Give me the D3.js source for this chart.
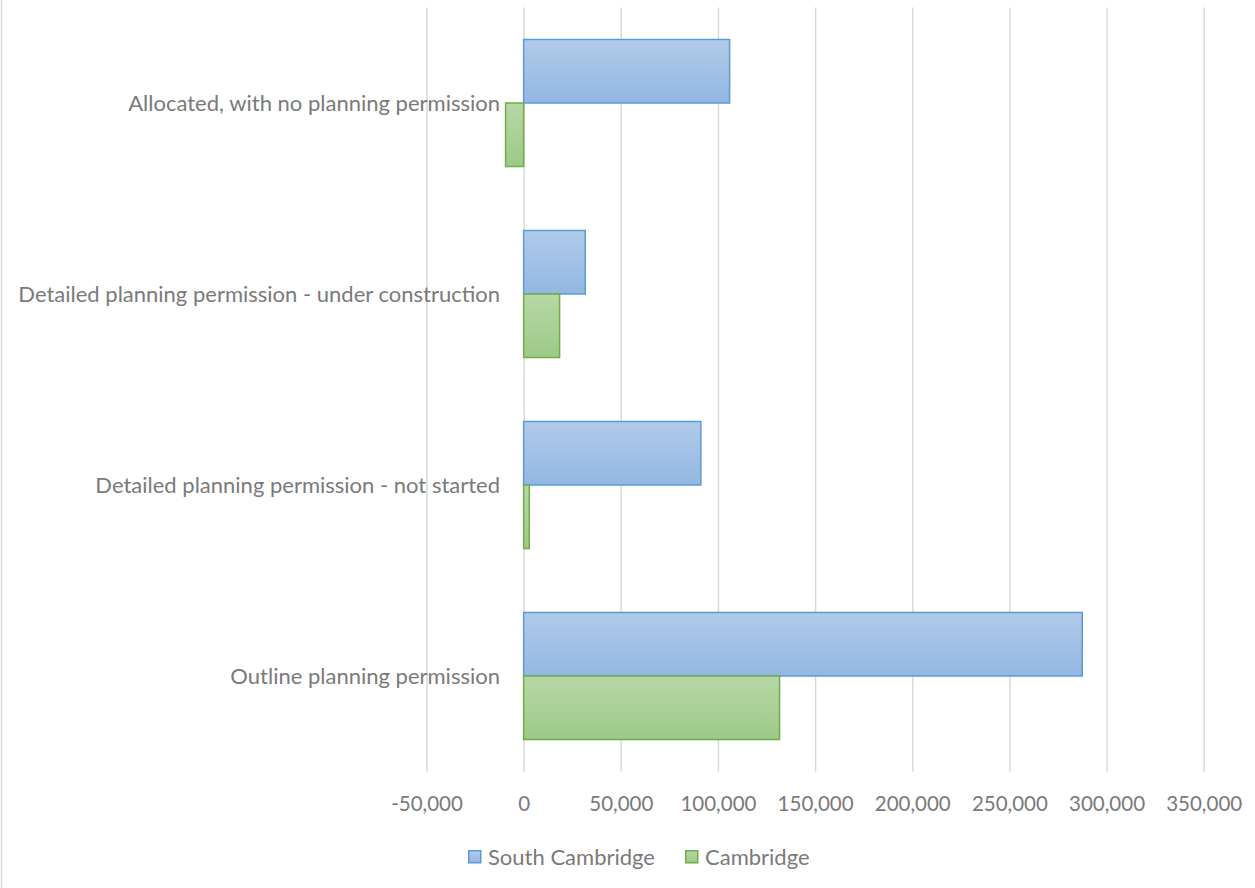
<!DOCTYPE html>
<html>
<head>
<meta charset="utf-8">
<script src="https://cdn.jsdelivr.net/npm/d3@7"></script>
<style>
  html, body { margin: 0; padding: 0; background: #fff; }
  svg { display: block; }
  text { font-family: Lato, "Open Sans", sans-serif; fill: #7a7a7a; }
</style>
</head>
<body>
<svg id="chart" width="1255" height="888"></svg>
<script>
// Housing land supply by planning status
const categories = [
  "Allocated, with no planning permission",
  "Detailed planning permission - under construction",
  "Detailed planning permission - not started",
  "Outline planning permission"
];
const seriesNames = ["South Cambridge", "Cambridge"];
const southCambridge = [106000, 31700, 91200, 287500];
const cambridge = [-9300, 18500, 2900, 131700];
const tickValues = [-50000, 0, 50000, 100000, 150000, 200000, 250000, 300000, 350000];

const seriesStyle = {
  "South Cambridge": { stroke: "#5b9bd5", top: "#b1cbe9", bottom: "#93b7e2" },
  "Cambridge":       { stroke: "#70ad47", top: "#b7d7a7", bottom: "#9dca86" }
};

const svg = d3.select("#chart");
const W = 1255, H = 888;

// chart area outline
svg.append("rect")
  .attr("x", 1.5).attr("y", -2).attr("width", W + 4).attr("height", H + 4)
  .attr("fill", "none").attr("stroke", "#d9d9d9").attr("stroke-width", 1.5);

const plot = { left: 426.5, right: 1203.7, top: 7.5, bottom: 771.5 };

const x = d3.scaleLinear().domain([-50000, 350000]).range([plot.left, plot.right]);
const y = d3.scaleBand().domain(categories).range([plot.top, plot.bottom])
  .paddingInner(0.335).paddingOuter(0.1675);
const ySub = d3.scaleBand().domain(seriesNames).range([0, y.bandwidth()]);

// gradients
const defs = svg.append("defs");
seriesNames.forEach((s, i) => {
  const g = defs.append("linearGradient").attr("id", "grad" + i)
    .attr("x1", 0).attr("y1", 0).attr("x2", 0).attr("y2", 1);
  g.append("stop").attr("offset", "0%").attr("stop-color", seriesStyle[s].top);
  g.append("stop").attr("offset", "100%").attr("stop-color", seriesStyle[s].bottom);
});

// vertical gridlines and value labels
const fmt = d3.format(",d");
const xAxis = d3.axisBottom(x).tickValues(tickValues)
  .tickSize(-(plot.bottom - plot.top)).tickSizeOuter(0)
  .tickFormat(d => fmt(d).replace("\u2212", "-"));
const gx = svg.append("g").attr("transform", `translate(0,${plot.bottom})`).call(xAxis);
gx.select(".domain").remove();
gx.selectAll(".tick line").attr("stroke", "#d9d9d9").attr("stroke-width", 1.5);
gx.selectAll(".tick text")
  .attr("y", 32).attr("dy", "0.35em")
  .style("font-size", "20.5px").style("fill", "#7a7a7a");

// bars
const rows = categories.map((c, i) => ({
  category: c,
  values: [
    { series: seriesNames[0], idx: 0, value: southCambridge[i] },
    { series: seriesNames[1], idx: 1, value: cambridge[i] }
  ]
}));

const groups = svg.append("g").selectAll("g").data(rows).join("g")
  .attr("transform", d => `translate(0,${y(d.category)})`);

groups.selectAll("rect").data(d => d.values).join("rect")
  .attr("x", d => x(Math.min(0, d.value)))
  .attr("y", d => ySub(d.series))
  .attr("width", d => Math.abs(x(d.value) - x(0)))
  .attr("height", ySub.bandwidth())
  .attr("fill", d => `url(#grad${d.idx})`)
  .attr("stroke", d => seriesStyle[d.series].stroke)
  .attr("stroke-width", 1.5);

// category labels
const yAxis = d3.axisLeft(y).tickSize(0).tickPadding(0);
const gy = svg.append("g").attr("transform", `translate(500,0)`).call(yAxis);
gy.select(".domain").remove();
gy.selectAll(".tick text").attr("dy", "0.38em")
  .style("font-size", "22px").style("fill", "#7a7a7a");

// legend
const legend = svg.append("g");
const legendItems = [
  { name: seriesNames[0], x: 468 },
  { name: seriesNames[1], x: 685 }
];
legendItems.forEach((it, i) => {
  legend.append("rect")
    .attr("x", it.x + 0.75).attr("y", 850.75).attr("width", 12).attr("height", 12)
    .attr("fill", `url(#grad${i})`)
    .attr("stroke", seriesStyle[it.name].stroke).attr("stroke-width", 1.5);
  legend.append("text")
    .attr("x", it.x + 20).attr("y", 857).attr("dy", "0.38em")
    .style("font-size", "22px").text(it.name);
});
</script>
</body>
</html>
